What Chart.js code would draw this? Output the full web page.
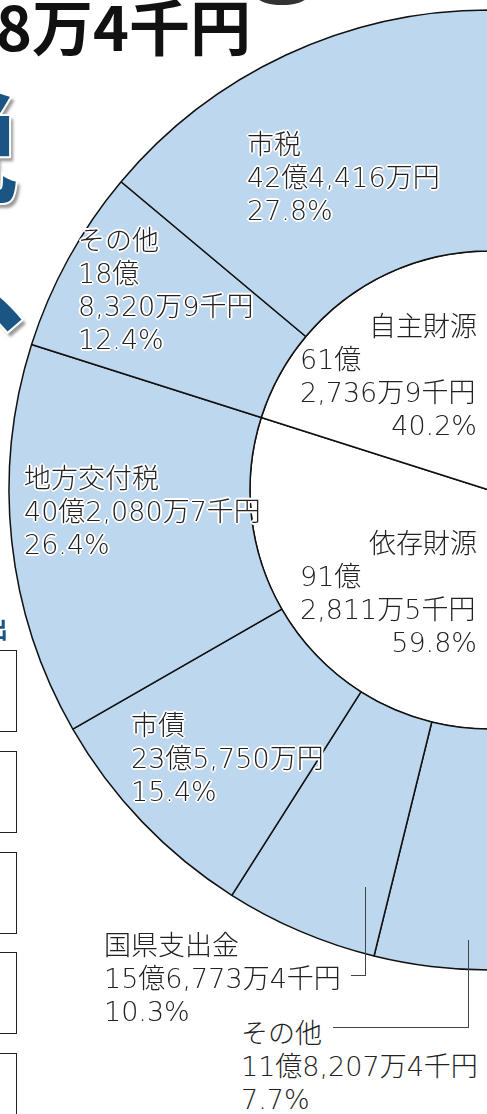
<!DOCTYPE html>
<html lang="ja">
<head>
<meta charset="utf-8">
<script src="https://cdn.jsdelivr.net/npm/chart.js@4.4.1/dist/chart.umd.min.js"></script>
<style>
  html, body { margin: 0; padding: 0; background: #fff; }
  body { width: 487px; height: 1114px; position: relative; overflow: hidden;
         font-family: "Noto Sans CJK JP", "Noto Sans", sans-serif; }
  #chartCanvas { position: absolute; left: -1px; top: -10px; }
  .lbl { position: absolute; font-family: "DejaVu Sans", "Noto Sans CJK JP", sans-serif;
         font-size: 27px; font-weight: 300; line-height: 33px;
         color: #222; white-space: nowrap; }
  .lbl.halo { text-shadow: 1px 0 0 #fff, -1px 0 0 #fff, 0 1px 0 #fff, 0 -1px 0 #fff,
              1px 1px 0 #fff, -1px -1px 0 #fff, 1px -1px 0 #fff, -1px 1px 0 #fff,
              2px 0 0 #fff, -2px 0 0 #fff, 0 2px 0 #fff, 0 -2px 0 #fff; }
  .lbl .r { text-align: right; }
  .title { position: absolute; left: -4px; top: -6px; font-size: 61px; font-weight: 700;
           line-height: 1; color: #111; white-space: nowrap; }
  .big { position: absolute; font-size: 120px; font-weight: 900; line-height: 1; color: #1b5584;
         text-shadow: 3px 4px 3px #999; -webkit-text-stroke: 2px #fff; }
  .box { position: absolute; left: -20px; width: 35px; height: 80px; border: 1.5px solid #222; }
  .leader { position: absolute; border-color: #444; border-style: solid; border-width: 0; }
</style>
</head>
<body>
<canvas id="chartCanvas" width="500" height="1000"></canvas>
<script>
// 歳入の内訳 (下から時計回り)
const categories = ['その他', '国県支出金', '市債', '地方交付税', 'その他', '市税'];
const shares = [7.7, 10.3, 15.4, 26.4, 12.4, 27.8];
const amounts = [
    ['11億8,207万4千円'],
    ['15億6,773万4千円'],
    ['23億5,750万円'],
    ['40億2,080万7千円'],
    ['18億', '8,320万9千円'],
    ['42億4,416万円']
];

// 財源の区分
const groupNames = ['依存財源', '自主財源'];
const groupShares = [59.8, 40.2];
const groupAmounts = [
    ['91億', '2,811万5千円'],
    ['61億', '2,736万9千円']
];

// where each text block sits on the page
const labelPos = [
    { left: 241, top: 1017 },
    { left: 104, top: 929 },
    { left: 131, top: 709 },
    { left: 24, top: 462 },
    { left: 78, top: 224 },
    { left: 247, top: 128 }
];
const groupPos = [
    { left: 300, top: 527 },
    { left: 300, top: 310 }
];

function pct(v) {
    return v.toFixed(1) + '%';
}

function addLabel(lines, pos, halo) {
    const div = document.createElement('div');
    div.className = 'lbl' + (halo ? ' halo' : '');
    div.style.left = pos.left + 'px';
    div.style.top = pos.top + 'px';
    div.innerHTML = lines.map(t => `<div>${t}</div>`).join('');
    document.body.appendChild(div);
    return div;
}

function addGroupLabel(i) {
    const div = document.createElement('div');
    div.className = 'lbl';
    div.style.left = groupPos[i].left + 'px';
    div.style.top = groupPos[i].top + 'px';
    div.style.width = '177px';
    div.innerHTML = `
        <div class="r">${groupNames[i]}</div>
        <div>${groupAmounts[i][0]}</div>
        <div>${groupAmounts[i][1]}</div>
        <div class="r">${pct(groupShares[i])}</div>`;
    document.body.appendChild(div);
}

function leader(left, top, width, height, sides) {
    const d = document.createElement('div');
    d.className = 'leader';
    d.style.left = left + 'px';
    d.style.top = top + 'px';
    d.style.width = width + 'px';
    d.style.height = height + 'px';
    d.style.borderWidth = sides;
    document.body.appendChild(d);
}

function drawChart() {
    const ctx = document.getElementById('chartCanvas').getContext('2d');
    new Chart(ctx, {
        type: 'doughnut',
        data: {
            labels: categories,
            datasets: [
                {
                    data: shares,
                    backgroundColor: '#bdd7ee',
                    borderColor: '#111',
                    borderWidth: 1.5,
                    weight: 241
                },
                {
                    data: groupShares,
                    backgroundColor: '#fff',
                    borderColor: '#111',
                    borderWidth: 1.5,
                    weight: 239
                }
            ]
        },
        options: {
            responsive: false,
            animation: false,
            rotation: 180,
            circumference: 180,
            cutout: 0,
            radius: 480,
            layout: { padding: 0 },
            plugins: {
                legend: { display: false },
                tooltip: { enabled: false }
            }
        }
    });
}

function decorate() {
    // page bits around the chart (cropped headline, table boxes)
    const t = document.createElement('div');
    t.className = 'title';
    t.textContent = '8万4千円';
    document.body.appendChild(t);

    const blob = document.createElement('div');
    blob.style.cssText = 'position:absolute;left:258px;top:-10px;width:48px;height:15px;border-radius:50%;background:#333;';
    document.body.appendChild(blob);

    [['税', 82, -102], ['、', 212, -22]].forEach(([ch, top, left]) => {
        const b = document.createElement('div');
        b.className = 'big';
        b.textContent = ch;
        b.style.top = top + 'px';
        b.style.left = left + 'px';
        document.body.appendChild(b);
    });

    const h = document.createElement('div');
    h.style.cssText = 'position:absolute;left:-16px;top:616px;font-size:24px;font-weight:700;color:#1b5584;line-height:1;';
    h.textContent = '出';
    document.body.appendChild(h);

    [650, 751, 852, 952, 1053].forEach((top, i) => {
        const b = document.createElement('div');
        b.className = 'box';
        b.style.top = top + 'px';
        if (i < 2) {
            b.innerHTML = '<span style="position:absolute;left:0;top:26px;font-size:20px;color:#333;">円</span>';
        }
        document.body.appendChild(b);
    });
}

drawChart();
decorate();

categories.forEach((name, i) => {
    const lines = [name].concat(amounts[i], [pct(shares[i])]);
    addLabel(lines, labelPos[i], i >= 2);
});
groupNames.forEach((g, i) => addGroupLabel(i));

// leader lines for the two small slices at the bottom
leader(351, 887, 14, 88, '0 1px 1px 0');
leader(333, 940, 135, 87, '0 1px 1px 0');
</script>
</body>
</html>
